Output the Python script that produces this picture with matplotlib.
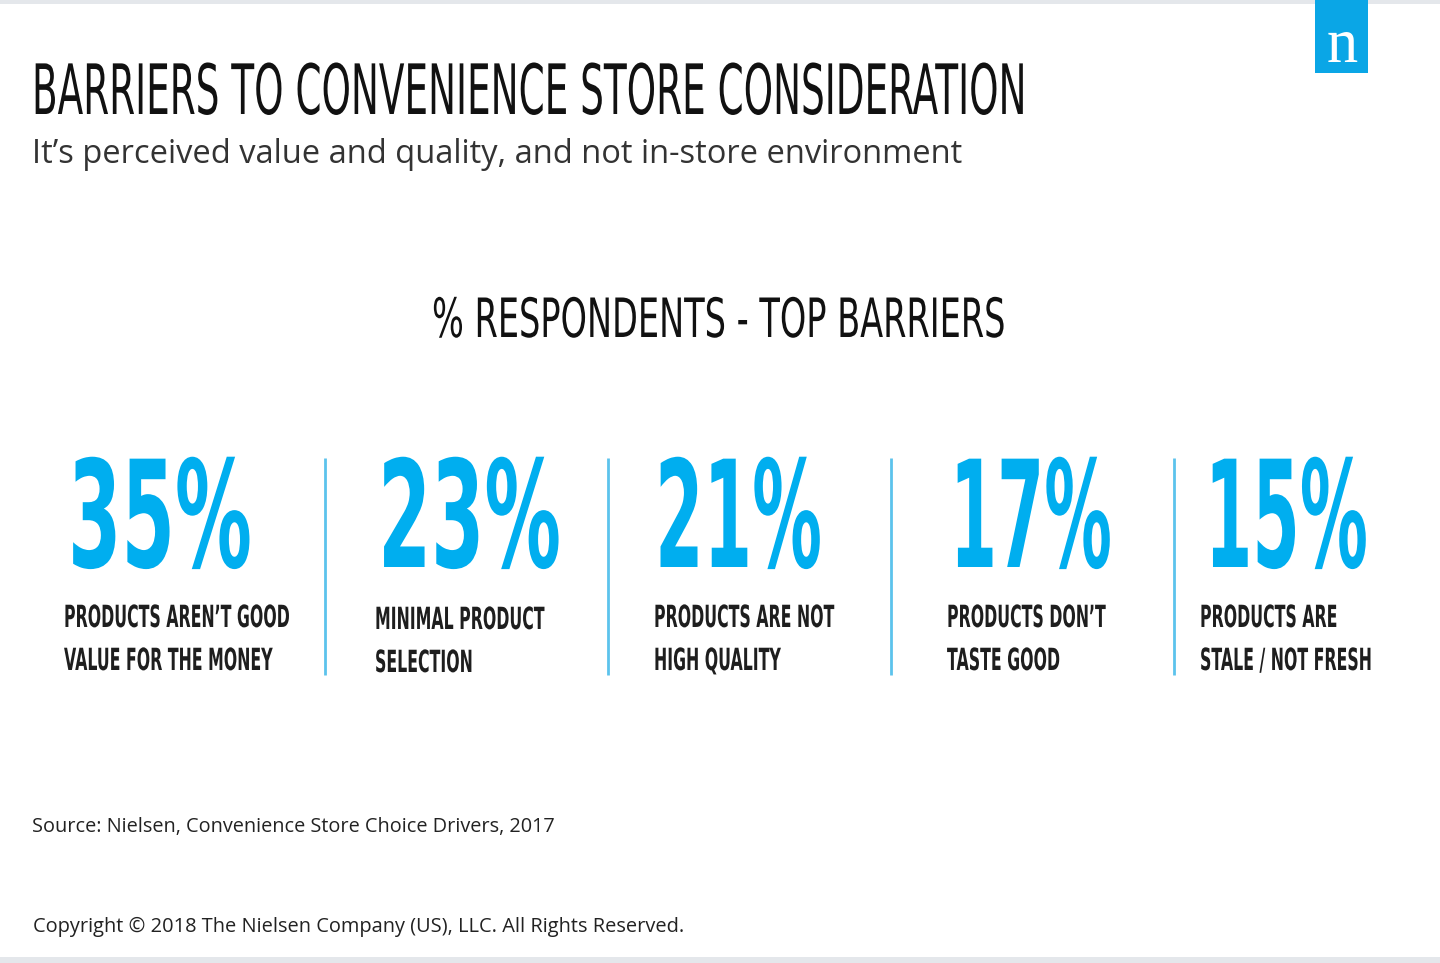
import matplotlib
matplotlib.use("Agg")
import matplotlib.pyplot as plt
import matplotlib.patheffects as pe
from matplotlib.patches import Rectangle
from matplotlib.transforms import Affine2D

# ── Content ────────────────────────────────────────────────────────────────
title = "BARRIERS TO CONVENIENCE STORE CONSIDERATION"
subtitle = "It’s perceived value and quality, and not in-store environment"
heading = "% RESPONDENTS - TOP BARRIERS"
source = "Source: Nielsen, Convenience Store Choice Drivers, 2017"
copyright_note = "Copyright © 2018 The Nielsen Company (US), LLC. All Rights Reserved."

pct = [35, 23, 21, 17, 15]
barriers = [
    "PRODUCTS AREN’T GOOD\nVALUE FOR THE MONEY",
    "MINIMAL PRODUCT\nSELECTION",
    "PRODUCTS ARE NOT\nHIGH QUALITY",
    "PRODUCTS DON’T\nTASTE GOOD",
    "PRODUCTS ARE\nSTALE / NOT FRESH",
]

# ── Style / layout (pixel coordinates, y downwards) ────────────────────────
BLUE = "#00aeef"
SEP_BLUE = "#5cc3ec"
INK = "#111111"
GREY_TXT = "#333333"
BORDER = "#e4e7eb"
NARROW = ["Liberation Sans Narrow", "DejaVu Sans"]
SANS = ["Open Sans", "DejaVu Sans"]

num_x = [68, 378, 655, 950, 1205]
num_w = [184, 183, 167, 162, 163]
label_x = [64, 375, 654, 947, 1200]
label_y = [627, 629, 627, 627, 627]
sep_x = [325, 608, 891, 1174]


class Stretch(pe.AbstractPathEffect):
    """Stretch glyph outlines upwards from the baseline.

    Text is set at a smaller size (so its width is right) and made taller,
    which gives the look of a condensed display face.
    """

    def __init__(self, sy):
        super().__init__()
        self.sy = sy

    def draw_path(self, renderer, gc, tpath, affine, rgbFace=None):
        renderer.draw_path(gc, tpath, Affine2D().scale(1.0, self.sy) + affine,
                           rgbFace)


fig = plt.figure(figsize=(14.4, 9.63), dpi=100)
ax = fig.add_axes([0, 0, 1, 1])
ax.set_xlim(0, 1440)
ax.set_ylim(963, 0)
ax.axis("off")
renderer = fig.canvas.get_renderer()


def squeeze_factor(s, size, width, weight):
    t = ax.text(0, 0, s, fontsize=size, family=NARROW, fontweight=weight)
    w = t.get_window_extent(renderer).width
    t.remove()
    return width / w


def narrow_text(x, y, s, size, sx, weight="normal", color=INK):
    # size = nominal size giving the wanted cap height; sx = width ratio
    ax.text(x, y, s, fontsize=size * sx, family=NARROW, fontweight=weight,
            color=color, ha="left", va="baseline",
            path_effects=[Stretch(1.0 / sx)])


def fitted_text(x, y, s, width, color, va="baseline"):
    t = ax.text(x, y, s, fontsize=10, family=SANS, color=color,
                ha="left", va=va)
    w = t.get_window_extent(renderer).width
    t.set_fontsize(10 * width / w)


# borders and logo
ax.axhspan(0, 4, color=BORDER, lw=0)
ax.axhspan(957, 963, color=BORDER, lw=0)
ax.add_patch(Rectangle((1315, 0), 53, 73, color="#0aa6e6", lw=0))
ax.text(1342, 62, "n", fontsize=45, family=["Liberation Serif", "DejaVu Serif"],
        color="white", ha="center", va="baseline")

# header
narrow_text(32, 114, title, 50, squeeze_factor(title, 50, 996, "normal"))
fitted_text(32, 163, subtitle, 930, GREY_TXT)
narrow_text(432, 337, heading, 39, squeeze_factor(heading, 39, 573, "normal"))

# big numbers + labels
lab_sx = squeeze_factor(barriers[0].split("\n")[0], 22, 225, "bold")
for i, (v, lab) in enumerate(zip(pct, barriers)):
    s = f"{v}%"
    narrow_text(num_x[i], 567, s, 107, squeeze_factor(s, 107, num_w[i], "bold"),
                weight="bold", color=BLUE)
    for j, line in enumerate(lab.split("\n")):
        narrow_text(label_x[i], label_y[i] + 43 * j, line, 22, lab_sx,
                    weight="bold", color="#1e1e1e")

for x in sep_x:
    ax.plot([x, x], [458, 675], color=SEP_BLUE, lw=2, solid_capstyle="butt")

# footer
fitted_text(32, 832, source, 521, "#222222")
fitted_text(33, 932, copyright_note, 648, "#222222")

fig.savefig("out.png", dpi=100)
